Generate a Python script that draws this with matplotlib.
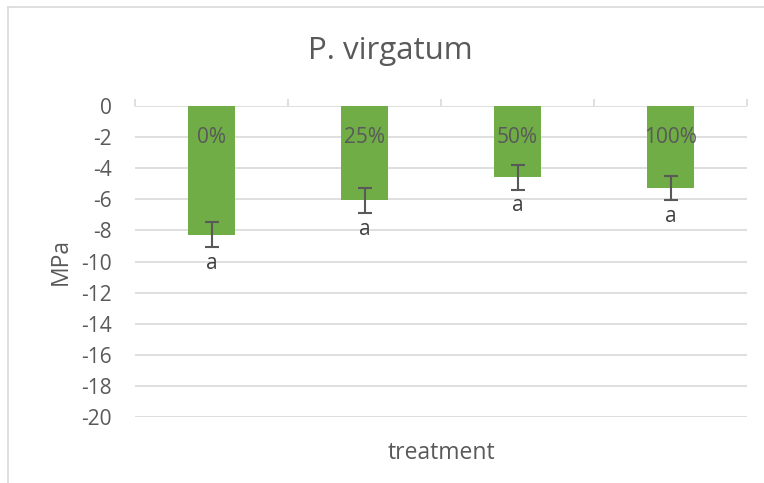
import numpy as np
import matplotlib
matplotlib.use('Agg')
import matplotlib.pyplot as plt
from matplotlib.lines import Line2D

plt.rcParams['font.family'] = ['Open Sans', 'DejaVu Sans']

# data
treatments = ['0%', '25%', '50%', '100%']
mpa = [-8.28, -6.07, -4.59, -5.27]
err = [0.80, 0.81, 0.79, 0.80]
letters = ['a', 'a', 'a', 'a']
yticks = list(range(0, -21, -2))

grey = '#595959'
grid = '#d9d9d9'
green = '#70ad47'

fig = plt.figure(figsize=(7.64, 4.83), dpi=100)
ax = fig.add_axes([135 / 764, 66 / 483, 612 / 764, 311 / 483])

x = np.arange(len(treatments))
ax.bar(x, mpa, width=0.31, color=green, zorder=2)
ax.errorbar(x, mpa, yerr=err, fmt='none', ecolor=grey, elinewidth=1.5,
            capsize=5, capthick=1.5, zorder=3)

# category labels sit just under the zero line
for xi, lab in zip(x, treatments):
    ax.text(xi, -2.05, lab, ha='center', va='center', fontsize=15, color=grey, zorder=4)

# significance letters below the error bars
for xi, v, e, l in zip(x, mpa, err, letters):
    ax.annotate(l, (xi, v - e), xytext=(0, -4), textcoords='offset points',
                ha='center', va='top', fontsize=15, color='#404040')

ax.set_xlim(-0.5, 3.5)
ax.set_ylim(-20, 0)
ax.set_yticks(yticks)
ax.set_yticklabels([str(t) for t in yticks])
ax.yaxis.grid(True, color=grid, linewidth=1.2, zorder=0)
ax.set_axisbelow(True)
for s in ax.spines.values():
    s.set_visible(False)
ax.tick_params(axis='y', length=0, labelsize=15, labelcolor=grey, pad=17)

# small category separators on top of the zero line
ax.set_xticks(np.arange(-0.5, 4.0, 1.0))
ax.xaxis.tick_top()
ax.tick_params(axis='x', direction='out', length=5, color=grid, width=1.2,
               labeltop=False, labelbottom=False)

ax.set_ylabel('MPa', fontsize=16.5, color=grey, labelpad=6)
ax.set_xlabel('treatment', fontsize=16.5, color=grey)
ax.xaxis.set_label_position('bottom')
ax.xaxis.labelpad = 17

fig.text(390 / 764, 1 - 51 / 483, 'P. virgatum', ha='center', va='center',
         fontsize=22.5, color=grey)

# chart border (left and top edges visible)
fig.add_artist(Line2D([7.5 / 764, 7.5 / 764], [0, 1 - 6.5 / 483], color=grid, lw=1.2))
fig.add_artist(Line2D([7.5 / 764, 1], [1 - 6.5 / 483, 1 - 6.5 / 483], color=grid, lw=1.2))

fig.savefig('out.png', dpi=100, facecolor='white')
